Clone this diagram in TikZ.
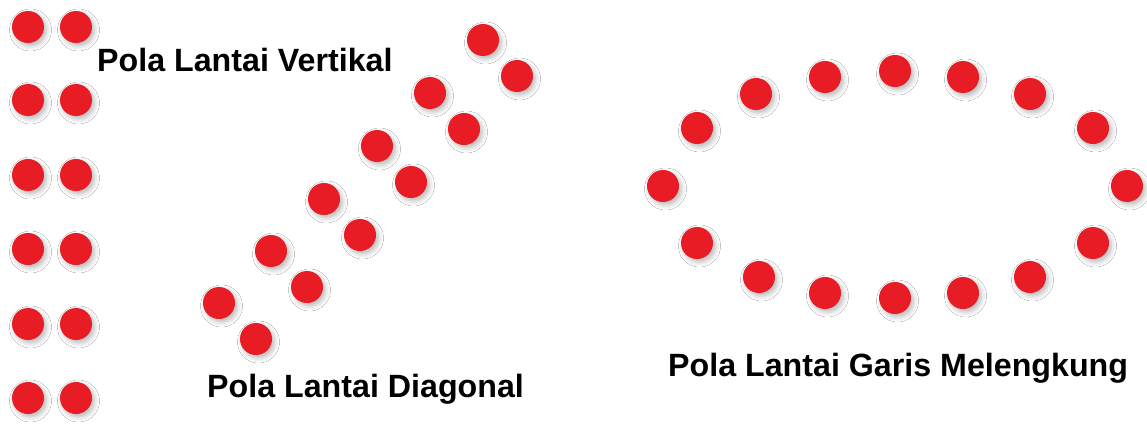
\documentclass[tikz,border=0pt]{standalone}
\usepackage{fontspec}
\setmainfont{Liberation Sans}
\usetikzlibrary{shadows.blur}
\definecolor{dotred}{RGB}{232,28,36}
\tikzset{
  dot/.style={circle,fill=dotred,minimum size=32pt,inner sep=0pt,
    blur shadow={shadow xshift=2.5pt,shadow yshift=-3pt,shadow blur radius=5pt,shadow opacity=28}},
  lbl/.style={anchor=base west,inner sep=0pt,font=\fontsize{32.2}{36}\selectfont\bfseries}
}
\begin{document}
\begin{tikzpicture}[x=1pt,y=-1pt]
\useasboundingbox[fill=white] (0,0) rectangle (1147,423);
% vertical
\foreach \i/\y in {1/27,2/100,3/175,4/249,5/324,6/398}{
  \node[dot] (vl\i) at (28,\y) {};
  \node[dot] (vr\i) at (76,\y) {};
}
% diagonal
\foreach \i/\ax/\ay/\bx/\by in {1/219/303/256/339,2/271/251/307/287,3/324/199/360/235,4/377/146/411/182,5/430/93/464/129,6/483/40/517/76}{
  \node[dot] (da\i) at (\ax,\ay) {};
  \node[dot] (db\i) at (\bx,\by) {};
}
% ellipse
\foreach \i/\x/\y in {1/663/186,2/697/128,3/756/94,4/825/77,5/895/71,6/963/77,7/1030/94,8/1093/128,9/1127/186,10/1093/243,11/1030/277,12/963/293,13/895/298,14/825/293,15/759/277,16/697/243}{
  \node[dot] (e\i) at (\x,\y) {};
}
\node[lbl] (tv) at (97,71) {Pola Lantai Vertikal};
\node[lbl] (td) at (207,397) {Pola Lantai Diagonal};
\node[lbl] (tg) at (668,376) {Pola Lantai Garis Melengkung};
\end{tikzpicture}
\end{document}
